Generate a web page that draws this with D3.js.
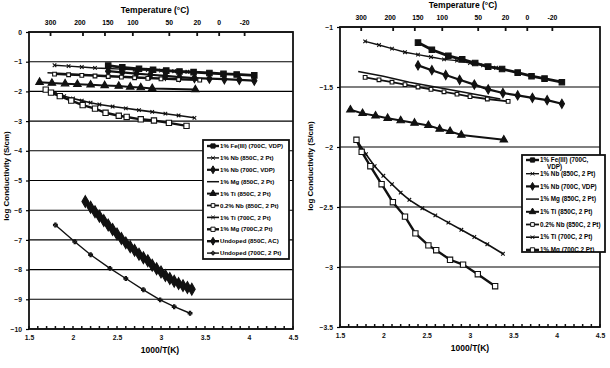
<!DOCTYPE html>
<html>
<head>
<meta charset="utf-8">
<script src="https://cdn.jsdelivr.net/npm/d3@7"></script>
<style>
  body { margin: 0; background: #fff; }
  svg { font-family: "Liberation Sans", Arial, sans-serif; font-weight: bold; }
</style>
</head>
<body>
<script>
// Data: x = 1000/T(K), y = log conductivity (S/cm)
var seriesNames = [
  "1% Fe(III) (700C, VDP)",
  "1% Nb (850C, 2 Pt)",
  "1% Nb (700C, VDP)",
  "1% Mg (850C, 2 Pt)",
  "1% Ti (850C, 2 Pt)",
  "0.2% Nb (850C, 2 Pt)",
  "1% Ti (700C, 2 Pt)",
  "1% Mg (700C,2 Pt)",
  "Undoped (850C, AC)",
  "Undoped (700C, 2 Pt)"
];

var feX = [2.40, 2.56, 2.75, 2.91, 3.06, 3.21, 3.37, 3.55, 3.71, 3.86, 4.06];
var feY = [-1.13, -1.19, -1.24, -1.27, -1.30, -1.33, -1.35, -1.38, -1.41, -1.43, -1.46];

var nb850X = [1.79, 1.95, 2.10, 2.25, 2.40, 2.55, 2.70, 2.85, 3.00, 3.15, 3.30];
var nb850Y = [-1.12, -1.15, -1.18, -1.21, -1.23, -1.25, -1.27, -1.28, -1.30, -1.32, -1.34];

var nb700X = [2.40, 2.56, 2.72, 2.88, 3.05, 3.21, 3.38, 3.55, 3.72, 3.89, 4.06];
var nb700Y = [-1.32, -1.36, -1.40, -1.44, -1.48, -1.52, -1.55, -1.57, -1.59, -1.61, -1.64];

var mg850X = [1.71, 2.00, 2.30, 2.60, 2.90, 3.35];
var mg850Y = [-1.37, -1.41, -1.46, -1.50, -1.54, -1.60];

var ti850X = [1.62, 1.76, 1.91, 2.05, 2.20, 2.36, 2.52, 2.65, 2.77, 2.90, 3.39];
var ti850Y = [-1.69, -1.72, -1.74, -1.76, -1.78, -1.80, -1.82, -1.85, -1.87, -1.90, -1.94];

var nb02X = [1.79, 1.95, 2.10, 2.25, 2.40, 2.55, 2.70, 2.85, 3.00, 3.20, 3.44];
var nb02Y = [-1.42, -1.44, -1.46, -1.48, -1.50, -1.52, -1.54, -1.56, -1.58, -1.60, -1.62];

var ti700X = [1.69, 1.80, 1.90, 2.00, 2.10, 2.20, 2.30, 2.45, 2.60, 2.75, 2.90, 3.05, 3.20, 3.38];
var ti700Y = [-1.94, -2.06, -2.16, -2.24, -2.31, -2.38, -2.44, -2.51, -2.57, -2.63, -2.69, -2.75, -2.81, -2.89];

var mg700X = [1.69, 1.75, 1.85, 1.98, 2.11, 2.25, 2.37, 2.52, 2.61, 2.77, 2.92, 3.09, 3.29];
var mg700Y = [-1.94, -2.04, -2.16, -2.31, -2.46, -2.58, -2.72, -2.82, -2.86, -2.94, -2.98, -3.06, -3.16];

var und850X = [2.14, 2.20, 2.25, 2.30, 2.35, 2.40, 2.45, 2.50, 2.55, 2.60, 2.65, 2.70, 2.75, 2.80,
  2.85, 2.90, 2.95, 3.00, 3.05, 3.10, 3.15, 3.20, 3.25, 3.30, 3.35];
var und850Y = [-5.71, -5.90, -6.05, -6.20, -6.35, -6.50, -6.65, -6.80, -6.95, -7.10, -7.23, -7.35, -7.48,
  -7.60, -7.70, -7.85, -7.97, -8.08, -8.20, -8.30, -8.39, -8.47, -8.54, -8.60, -8.66];

var und700X = [1.80, 2.02, 2.20, 2.42, 2.60, 2.80, 2.99, 3.15, 3.33];
var und700Y = [-6.50, -7.06, -7.50, -7.96, -8.30, -8.68, -9.02, -9.25, -9.47];

var tempTicks = [300, 200, 150, 100, 50, 20, 0, -20];
var xTicks = [1.5, 2, 2.5, 3, 3.5, 4, 4.5];
var leftYTicks = [0, -1, -2, -3, -4, -5, -6, -7, -8, -9, -10];
var rightYTicks = [-1, -1.5, -2, -2.5, -3, -3.5];

// marker + line style per series
var styles = [
  { sym: d3.symbolSquare, size: 30, fill: "#111", width: 2.8 },
  { sym: d3.symbolX, size: 10, fill: "none", width: 1.4 },
  { sym: d3.symbolDiamond, size: 24, fill: "#111", width: 2.2 },
  { sym: null, size: 0, fill: "none", width: 1.5 },
  { sym: d3.symbolTriangle, size: 24, fill: "#111", width: 2 },
  { sym: d3.symbolSquare, size: 14, fill: "#fff", width: 1.8 },
  { sym: d3.symbolX, size: 10, fill: "none", width: 1.6 },
  { sym: d3.symbolSquare, size: 28, fill: "#fff", width: 2.4 },
  { sym: d3.symbolDiamond, size: 40, fill: "#111", width: 5 },
  { sym: d3.symbolCross, size: 8, fill: "none", width: 1.4 }
];

var allX = [feX, nb850X, nb700X, mg850X, ti850X, nb02X, ti700X, mg700X, und850X, und700X];
var allY = [feY, nb850Y, nb700Y, mg850Y, ti850Y, nb02Y, ti700Y, mg700Y, und850Y, und700Y];

var series = seriesNames.map(function (name, i) {
  return { name: name, style: styles[i], values: allX[i].map(function (x, j) { return { x: x, y: allY[i][j] }; }) };
});

var svg = d3.select("body").append("svg")
  .attr("width", 610)
  .attr("height", 368);

function kelvinX(t) { return 1000 / (t + 273.15); }

function drawPanel(cfg) {
  var x = d3.scaleLinear().domain([1.5, 4.5]).range([cfg.left, cfg.right]);
  var y = d3.scaleLinear().domain(cfg.yDomain).range([cfg.top, cfg.bottom]);
  var g = svg.append("g");

  g.append("clipPath").attr("id", cfg.id + "-clip")
    .append("rect")
    .attr("x", cfg.left).attr("y", cfg.top)
    .attr("width", cfg.right - cfg.left).attr("height", cfg.bottom - cfg.top);

  // gridlines
  g.selectAll(".grid").data(cfg.yTicks).enter().append("line")
    .attr("x1", cfg.left).attr("x2", cfg.right)
    .attr("y1", d => y(d)).attr("y2", d => y(d))
    .attr("stroke", "#000").attr("stroke-width", 1.1);

  // frame
  g.append("rect")
    .attr("x", cfg.left).attr("y", cfg.top)
    .attr("width", cfg.right - cfg.left).attr("height", cfg.bottom - cfg.top)
    .attr("fill", "none").attr("stroke", "#111").attr("stroke-width", 1.8);

  // bottom axis
  var bottomAxis = d3.axisBottom(x).tickValues(xTicks).tickSize(0).tickPadding(6)
    .tickFormat(d3.format("~g"));
  g.append("g").attr("transform", `translate(0, ${cfg.bottom})`).call(bottomAxis)
    .call(a => a.select(".domain").remove())
    .selectAll("text").attr("font-size", 6.8).attr("font-weight", "bold").attr("fill", "#111");

  // minor ticks pointing up along the bottom
  g.selectAll(".minor").data(d3.range(15, 46).map(d => d / 10)).enter().append("line")
    .attr("x1", d => x(d)).attr("x2", d => x(d))
    .attr("y1", cfg.bottom).attr("y2", cfg.bottom - 3)
    .attr("stroke", "#111").attr("stroke-width", 1.5);

  // left axis
  var leftAxis = d3.axisLeft(y).tickValues(cfg.yTicks).tickSize(3).tickPadding(4)
    .tickFormat(d3.format("~g"));
  g.append("g").attr("transform", `translate(${cfg.left}, 0)`).call(leftAxis)
    .call(a => a.select(".domain").remove())
    .call(a => a.selectAll("line").attr("stroke-width", 1.2))
    .selectAll("text").attr("font-size", 6.8).attr("font-weight", "bold").attr("fill", "#111");

  // top temperature axis
  var tg = g.append("g");
  tg.selectAll("line").data(tempTicks).enter().append("line")
    .attr("x1", d => x(kelvinX(d))).attr("x2", d => x(kelvinX(d)))
    .attr("y1", cfg.top).attr("y2", cfg.top + 4)
    .attr("stroke", "#111").attr("stroke-width", 1.8);
  tg.selectAll("text").data(tempTicks).enter().append("text")
    .attr("x", d => x(kelvinX(d)) + (d == 200 ? -3 : d == 150 ? 3 : 0))
    .attr("y", cfg.top - cfg.tempGap)
    .attr("text-anchor", "middle")
    .attr("font-size", 6.8)
    .text(d => d);

  g.append("text")
    .attr("x", cfg.titleX).attr("y", cfg.titleY)
    .attr("text-anchor", "middle").attr("font-size", 8.5)
    .text("Temperature (°C)");

  g.append("text")
    .attr("x", cfg.xLabelX).attr("y", cfg.xLabelY)
    .attr("text-anchor", "middle").attr("font-size", 8.5)
    .text("1000/T(K)");

  g.append("text")
    .attr("transform", `translate(${cfg.yLabelX}, ${cfg.yLabelY}) rotate(-90)`)
    .attr("text-anchor", "middle").attr("font-size", 8)
    .text("log Conductivity (S/cm)");

  // series
  var plot = g.append("g").attr("clip-path", `url(#${cfg.id}-clip)`);
  var line = d3.line().x(d => x(d.x)).y(d => y(d.y));
  series.forEach(function (s) {
    plot.append("path")
      .attr("d", line(s.values))
      .attr("fill", "none").attr("stroke", "#111")
      .attr("stroke-width", s.style.width);
    if (s.style.sym) {
      plot.selectAll(null).data(s.values).enter().append("path")
        .attr("transform", d => `translate(${x(d.x)}, ${y(d.y)})`)
        .attr("d", d3.symbol().type(s.style.sym).size(s.style.size))
        .attr("fill", s.style.fill)
        .attr("stroke", "#111").attr("stroke-width", 1.1);
    }
  });

  // legend
  var lg = g.append("g");
  lg.append("clipPath").attr("id", cfg.id + "-lclip")
    .append("rect")
    .attr("x", cfg.legend.x).attr("y", cfg.legend.y)
    .attr("width", cfg.legend.w).attr("height", cfg.legend.h);
  lg.append("rect")
    .attr("x", cfg.legend.x).attr("y", cfg.legend.y)
    .attr("width", cfg.legend.w).attr("height", cfg.legend.h)
    .attr("fill", "#fff").attr("stroke", "#111").attr("stroke-width", 1.8);
  var items = lg.append("g").attr("clip-path", `url(#${cfg.id}-lclip)`)
    .selectAll("g").data(series.slice(0, cfg.legend.count)).enter().append("g")
    .attr("transform", (d, i) => `translate(${cfg.legend.x + 4}, ${cfg.legend.rowY(i)})`);
  items.append("line")
    .attr("x1", 0).attr("x2", cfg.legend.sample)
    .attr("stroke", "#111").attr("stroke-width", d => Math.min(d.style.width, 2.4));
  items.filter(d => d.style.sym).append("path")
    .attr("transform", `translate(${cfg.legend.sample / 2}, 0)`)
    .attr("d", d => d3.symbol().type(d.style.sym).size(Math.min(d.style.size, 18))())
    .attr("fill", d => d.style.fill).attr("stroke", "#111").attr("stroke-width", 1);
  items.append("text")
    .attr("x", cfg.legend.sample + 1).attr("dy", "0.35em")
    .attr("font-size", cfg.legend.font)
    .each(function (d, i) {
      var t = d3.select(this);
      if (cfg.legend.wrapFirst && i == 0) {
        t.append("tspan").text("1% Fe(III) (700C,");
        t.append("tspan").attr("x", cfg.legend.sample + 8).attr("dy", "1.05em").text("VDP)");
      } else {
        t.text(d.name);
      }
    });
}

// left panel: full range
drawPanel({
  id: "left",
  left: 29, right: 293, top: 32, bottom: 329,
  yDomain: [0, -10], yTicks: leftYTicks,
  tempGap: 7, titleX: 155, titleY: 13,
  xLabelX: 160, xLabelY: 353,
  yLabelX: 9, yLabelY: 176,
  legend: {
    x: 203, y: 140, w: 86, h: 119, count: 10, sample: 12, font: 6.1, wrapFirst: false,
    rowY: i => 146 + i * 11.9
  }
});

// right panel: zoom of the upper region
drawPanel({
  id: "right",
  left: 340, right: 600, top: 27, bottom: 327,
  yDomain: [-1, -3.5], yTicks: rightYTicks,
  tempGap: 7, titleX: 463, titleY: 8,
  xLabelX: 470, xLabelY: 351,
  yLabelX: 313, yLabelY: 166,
  legend: {
    x: 522, y: 155, w: 83, h: 97, count: 8, sample: 13, font: 6.3, wrapFirst: true,
    rowY: i => i == 0 ? 160 : 161 + i * 12.7
  }
});
</script>
</body>
</html>
